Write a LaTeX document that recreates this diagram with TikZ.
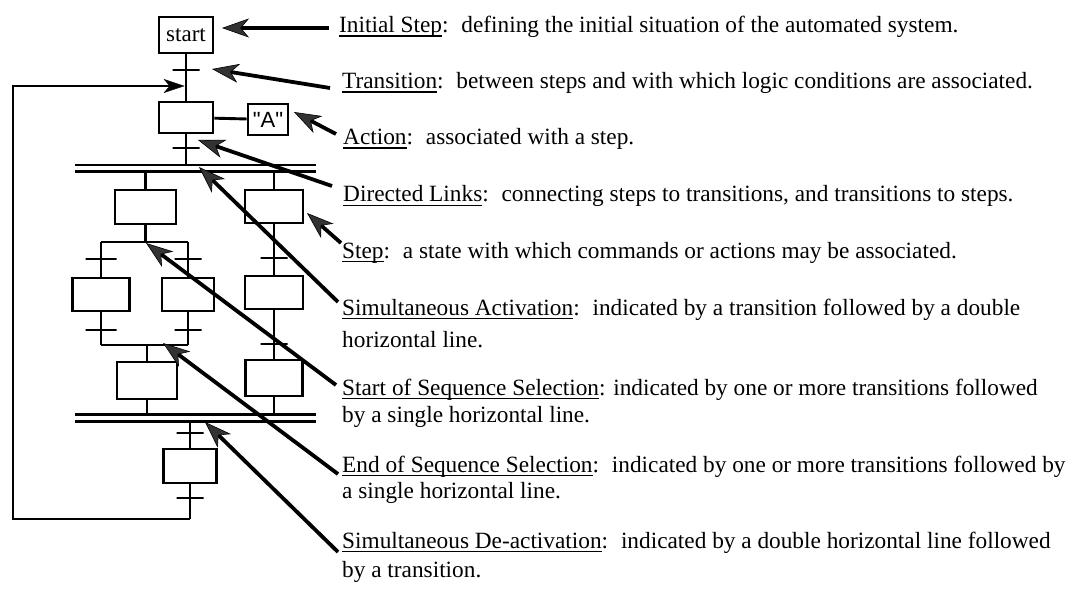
\documentclass[tikz,border=0pt]{standalone}
\usepackage{fontspec}
\setmainfont{Liberation Serif}
\newfontfamily\helvfont{Liberation Sans}
\usetikzlibrary{arrows.meta}
% underlined term with a thin rule just under the baseline
\newcommand\ulab[1]{\setbox0\hbox{#1}\rlap{\rule[-3.6pt]{\wd0}{1.1pt}}\box0}
\newcommand\gap{\hspace{0.55em}}
\begin{document}
\begin{tikzpicture}[x=1pt,y=-1pt,
  flow/.style={line width=2.9pt, line join=miter},
  stepbox/.style={draw, line width=2.9pt, inner sep=0pt, font=\fontsize{23}{27}\selectfont},
  trans/.style={draw, line width=2.9pt, rectangle, minimum width=27pt, minimum height=0pt, inner sep=0pt, outer sep=0pt},
  dbl/.style={double, line width=2.8pt, double distance=4pt},
  note/.style={anchor=base west, inner sep=0pt, font=\fontsize{23.3}{27}\selectfont},
  callout/.style={line width=3.8pt, -{Stealth[length=27pt,width=19pt,inset=8pt,line width=0.6pt,fill=black!80]}},
  looparrow/.style={flow, -{Stealth[length=21pt,width=14pt,inset=6pt,line width=0.4pt]}}
]
\fill[white] (0,0) rectangle (1077,607);
\useasboundingbox (0,0) rectangle (1077,607);

% ---- main column ----
\node[stepbox, minimum width=54pt, minimum height=36pt] (s0) at (186,35) {start};
\node[trans] (t0) at (186,70) {};
\node[stepbox, minimum width=54pt, minimum height=31pt] (s1) at (186,117.5) {};
\node[stepbox, minimum width=40pt, minimum height=31pt, font=\helvfont\fontsize{22}{26}\selectfont] (a1) at (268,119.5) {"A"};
\node[trans] (t1) at (186,148) {};
\coordinate (dA1) at (75,168.5);
\coordinate (dA2) at (316,168.5);

\draw[flow] (s0) -- (t0) -- (s1) -- (t1) -- (t1 |- dA1);
\draw[flow] (s1) -- (a1);

% ---- left branch: sequence selection ----
\node[stepbox, minimum width=61pt, minimum height=34pt] (sA) at (145.5,207) {};
\coordinate (brL) at (101,242);
\coordinate (brR) at (188,242);
\node[trans, minimum width=31pt] (tL1) at (101,259) {};
\node[stepbox, minimum width=57pt, minimum height=33pt] (sL) at (101,294.5) {};
\node[trans, minimum width=31pt] (tL2) at (101,330) {};
\node[trans] (tR1a) at (188,259) {};
\node[stepbox, minimum width=52pt, minimum height=33pt] (sRa) at (188,294.5) {};
\node[trans] (tR2a) at (188,330) {};
\coordinate (mgL) at (101,345);
\coordinate (mgR) at (188,345);
\node[stepbox, minimum width=60pt, minimum height=37pt] (sC) at (147,380.5) {};

\draw[flow] (sA |- dA1) -- (sA) -- (sA |- brL);
\draw[flow] (brL) -- (brR);
\draw[flow] (brL) -- (tL1) -- (sL) -- (tL2) -- (mgL);
\draw[flow] (brR) -- (tR1a) -- (sRa) -- (tR2a) -- (mgR);
\draw[flow] (mgL) -- (mgR);
\draw[flow] (sC |- mgL) -- (sC);

% ---- right branch ----
\node[stepbox, minimum width=58pt, minimum height=33pt] (sB) at (274,206.5) {};
\node[trans] (tB1) at (274,258) {};
\node[stepbox, minimum width=58pt, minimum height=33pt] (sR) at (274,292.5) {};
\node[trans] (tB2) at (274,344) {};
\node[stepbox, minimum width=57pt, minimum height=36pt] (sD) at (274,378) {};
\coordinate (dB1) at (75,418);
\coordinate (dB2) at (316,418);

\draw[flow] (sB |- dA1) -- (sB) -- (tB1) -- (sR) -- (tB2) -- (sD);
\draw[flow] (sD) -- (sD |- dB1);
\draw[flow] (sC) -- (sC |- dB1);

% ---- after the join, and the loop back ----
\node[trans] (tE1) at (190,433) {};
\node[stepbox, minimum width=53pt, minimum height=34pt] (sE) at (190,466) {};
\node[trans] (tE2) at (190,498) {};
\coordinate (cBot) at (190,519);
\coordinate (cBL) at (13,519);
\coordinate (cTL) at (13,86);
\coordinate (cIn) at (184.6,86);

\draw[flow] (sE |- dB1) -- (tE1) -- (sE) -- (tE2) -- (cBot);
\draw[looparrow] (cBot) -- (cBL) -- (cTL) -- (cIn);

% double horizontal lines (drawn over the link ends)
\draw[dbl] (dA1) -- (dA2);
\draw[dbl] (dB1) -- (dB2);

% ---- explanations ----
\node[note] (n1) at (339,33) {\ulab{Initial Step}:\gap defining the initial situation of the automated system.};
\node[note] (n2) at (342,89) {\ulab{Transition}:\gap between steps and with which logic conditions are associated.};
\node[note] (n3) at (343,145) {\ulab{Action}:\gap associated with a step.};
\node[note] (n4) at (343,202) {\ulab{Directed Links}:\gap connecting steps to transitions, and transitions to steps.};
\node[note] (n5) at (342,258) {\ulab{Step}:\gap a state with which commands or actions may be associated.};
\node[note] (n6) at (342,315) {\ulab{Simultaneous Activation}:\gap indicated by a transition followed by a double};
\node[note] (n6b) at (342,347) {horizontal line.};
\node[note] (n7) at (342,395) {\ulab{Start of Sequence Selection}: indicated by one or more transitions followed};
\node[note] (n7b) at (342,422) {by a single horizontal line.};
\node[note] (n8) at (342,472) {\ulab{End of Sequence Selection}:\gap indicated by one or more transitions followed by};
\node[note] (n8b) at (342,498) {a single horizontal line.};
\node[note] (n9) at (342,548) {\ulab{Simultaneous De-activation}:\gap indicated by a double horizontal line followed};
\node[note] (n9b) at (342,577) {by a transition.};

% pointer tails and tips
\coordinate (k1) at (329,28);   \coordinate (p1) at (222,28);
\coordinate (k2) at (330,88);   \coordinate (p2) at (212,69);
\coordinate (k3) at (336,134);  \coordinate (p3) at (294,112);
\coordinate (k4) at (332,186);  \coordinate (p4) at (198,140);
\coordinate (k5) at (341,243);  \coordinate (p5) at (307,213);
\coordinate (k6) at (338,302);  \coordinate (p6) at (199,167);
\coordinate (k7) at (336,385);  \coordinate (p7) at (146,243);
\coordinate (k8) at (338,474);  \coordinate (p8) at (163,343);
\coordinate (k9) at (338,552);  \coordinate (p9) at (205,422);

\foreach \i in {1,...,9} {\draw[callout] (k\i) -- (p\i);}
\end{tikzpicture}
\end{document}
